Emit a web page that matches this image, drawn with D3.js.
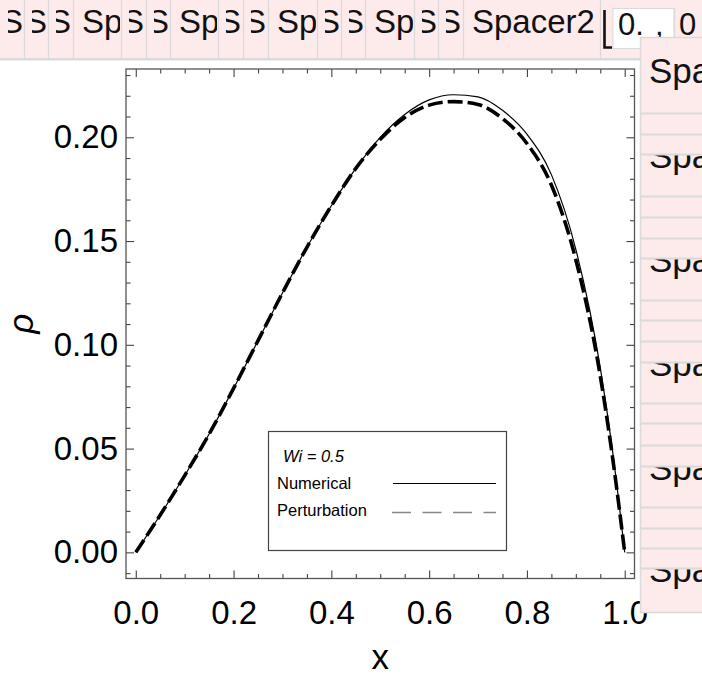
<!DOCTYPE html>
<html>
<head>
<meta charset="utf-8">
<script src="https://cdn.jsdelivr.net/npm/d3@7"></script>
<style>
  html, body { margin: 0; padding: 0; background: #fff; }
  svg { display: block; font-family: "Liberation Sans", Arial, Helvetica, sans-serif; }
</style>
</head>
<body>
<svg id="chart" width="702" height="685"></svg>
<script>
// ---- data ----
const xValues      = [0, 0.05, 0.1, 0.15, 0.2, 0.25, 0.3, 0.35, 0.4, 0.45, 0.5, 0.55, 0.6, 0.65, 0.7, 0.75, 0.8, 0.85, 0.9, 0.95, 0.975, 1.0];
const numerical    = [0, 0.018, 0.037, 0.057, 0.079, 0.102, 0.125, 0.147, 0.167, 0.185, 0.200, 0.211, 0.218, 0.2205, 0.2195, 0.213, 0.2015, 0.182, 0.146, 0.089, 0.049, 0];
const perturbation = [0, 0.018, 0.037, 0.057, 0.079, 0.102, 0.125, 0.147, 0.167, 0.185, 0.199, 0.2095, 0.2155, 0.2172, 0.2158, 0.209, 0.197, 0.177, 0.141, 0.085, 0.046, 0];
const xMajorTicks  = [0, 0.2, 0.4, 0.6, 0.8, 1.0];
const yMajorTicks  = [0, 0.05, 0.10, 0.15, 0.20];
const seriesNames  = ["Numerical", "Perturbation"];
const legendTitle  = "Wi = 0.5";
const xLabel = "x";
const yLabel = "ρ";
const cellText = "Spacer2";

// ---- layout ----
const W = 702, H = 685;
const frame = { left: 126, right: 634.5, top: 69, bottom: 578.5 };
const FONT = 33;
const PINK = "#fdeaea", CELL_LINE = "#dadada";

const svg = d3.select("#chart");
svg.append("rect").attr("width", W).attr("height", H).attr("fill", "#fff");
const defs = svg.append("defs");
let clipId = 0;
function clipRect(x, y, w, h) {
  const id = "clip" + (clipId++);
  defs.append("clipPath").attr("id", id)
    .append("rect").attr("x", x).attr("y", y).attr("width", w).attr("height", h);
  return "url(#" + id + ")";
}

// ---- top strip of cells ----
const stripEdges = [0, 24, 48, 73, 121, 146, 170, 218, 243, 268, 317, 341, 365, 414, 438, 463, 600];
const strip = svg.append("g");
strip.append("rect").attr("x", 0).attr("y", 0).attr("width", W).attr("height", 58).attr("fill", PINK);
strip.append("rect").attr("x", 0).attr("y", 58).attr("width", W).attr("height", 2.5).attr("fill", CELL_LINE);
d3.pairs(stripEdges).forEach(([a, b]) => {
  const narrow = (b - a) < 30;
  strip.append("line").attr("x1", b + 0.5).attr("x2", b + 0.5).attr("y1", 0).attr("y2", 58)
    .attr("stroke", CELL_LINE).attr("stroke-width", 1.3);
  strip.append("text").attr("x", narrow ? a + 1 : a + 9).attr("y", 33)
    .attr("font-size", FONT).attr("fill", "#111")
    .attr("clip-path", narrow ? clipRect(a + 8, 0, b - a - 9, 58) : clipRect(a + 1, 0, b - a - 2, 58))
    .text(cellText);
});
// bracket
strip.append("path").attr("d", "M604.5,10 V47.5 H612").attr("fill", "none")
  .attr("stroke", "#111").attr("stroke-width", 2.6);
// white cell with "0. ,"
strip.append("rect").attr("x", 613).attr("y", 8.5).attr("width", 61).attr("height", 40)
  .attr("fill", "#fff").attr("stroke", CELL_LINE).attr("stroke-width", 1);
strip.append("text").attr("x", 618).attr("y", 35).attr("font-size", 31).attr("fill", "#111").text("0.");
strip.append("text").attr("x", 655).attr("y", 35).attr("font-size", 31).attr("fill", "#111").text(",");
strip.append("line").attr("x1", 674.5).attr("x2", 674.5).attr("y1", 8).attr("y2", 40)
  .attr("stroke", CELL_LINE).attr("stroke-width", 1.3);
strip.append("text").attr("x", 679).attr("y", 35).attr("font-size", 31).attr("fill", "#111").text("0");

// ---- scales ----
const x = d3.scaleLinear().domain([-0.02, 1.02]).range([frame.left, frame.right]);
const y = d3.scaleLinear().domain([-0.0126, 0.2329]).range([frame.bottom, frame.top]);

const xMinor = d3.range(0, 1.0001, 0.05).filter(v => !xMajorTicks.some(m => Math.abs(m - v) < 1e-9));
const yMinor = d3.range(-0.01, 0.2301, 0.01).filter(v => !yMajorTicks.some(m => Math.abs(m - v) < 1e-9));

const plot = svg.append("g");
const TICK_COLOR = "#444";

function styleAxis(g, fontSize) {
  g.select(".domain").remove();
  g.selectAll(".tick line").attr("stroke", TICK_COLOR).attr("stroke-width", 1.1);
  g.selectAll(".tick text").attr("font-size", fontSize).attr("fill", "#000")
    .attr("font-family", "\"Liberation Sans\", Arial, sans-serif");
}

// bottom
plot.append("g").attr("transform", `translate(0,${frame.bottom})`)
  .call(d3.axisBottom(x).tickValues(xMajorTicks).tickSize(-8).tickPadding(22).tickFormat(d3.format(".1f")))
  .call(g => styleAxis(g, FONT));
plot.append("g").attr("transform", `translate(0,${frame.bottom})`)
  .call(d3.axisBottom(x).tickValues(xMinor).tickSize(-4.5).tickFormat(""))
  .call(g => styleAxis(g, FONT));
// top
plot.append("g").attr("transform", `translate(0,${frame.top})`)
  .call(d3.axisTop(x).tickValues(xMajorTicks).tickSize(-8).tickFormat(""))
  .call(g => styleAxis(g, FONT));
plot.append("g").attr("transform", `translate(0,${frame.top})`)
  .call(d3.axisTop(x).tickValues(xMinor).tickSize(-4.5).tickFormat(""))
  .call(g => styleAxis(g, FONT));
// left
plot.append("g").attr("transform", `translate(${frame.left},0)`)
  .call(d3.axisLeft(y).tickValues(yMajorTicks).tickSize(-8).tickPadding(8).tickFormat(d3.format(".2f")))
  .call(g => styleAxis(g, FONT));
plot.append("g").attr("transform", `translate(${frame.left},0)`)
  .call(d3.axisLeft(y).tickValues(yMinor).tickSize(-4.5).tickFormat(""))
  .call(g => styleAxis(g, FONT));
// right
plot.append("g").attr("transform", `translate(${frame.right},0)`)
  .call(d3.axisRight(y).tickValues(yMajorTicks).tickSize(-8).tickFormat(""))
  .call(g => styleAxis(g, FONT));
plot.append("g").attr("transform", `translate(${frame.right},0)`)
  .call(d3.axisRight(y).tickValues(yMinor).tickSize(-4.5).tickFormat(""))
  .call(g => styleAxis(g, FONT));

// frame
plot.append("rect")
  .attr("x", frame.left).attr("y", frame.top)
  .attr("width", frame.right - frame.left).attr("height", frame.bottom - frame.top)
  .attr("fill", "none").attr("stroke", "#555").attr("stroke-width", 1.3);

// axis titles
plot.append("text").attr("x", (frame.left + frame.right) / 2).attr("y", 669)
  .attr("text-anchor", "middle").attr("font-size", 35).attr("fill", "#000").text(xLabel);
plot.append("text").attr("transform", `translate(33,${(frame.top + frame.bottom) / 2}) rotate(-90)`)
  .attr("text-anchor", "middle").attr("font-size", 35).attr("font-style", "italic")
  .attr("fill", "#000").text(yLabel);

// ---- curves ----
const rowsNum = xValues.map((v, i) => [v, numerical[i]]);
const rowsPert = xValues.map((v, i) => [v, perturbation[i]]);
const line = d3.line().x(d => x(d[0])).y(d => y(d[1])).curve(d3.curveMonotoneX);

plot.append("path").datum(rowsPert).attr("d", line)
  .attr("fill", "none").attr("stroke", "#000").attr("stroke-width", 3.6)
  .attr("stroke-dasharray", "15,5");
plot.append("path").datum(rowsNum).attr("d", line)
  .attr("fill", "none").attr("stroke", "#000").attr("stroke-width", 1.2);

// ---- legend ----
const lg = svg.append("g");
lg.append("rect").attr("x", 268.5).attr("y", 431.5).attr("width", 238).attr("height", 119)
  .attr("fill", "#fff").attr("stroke", "#444").attr("stroke-width", 1.2);
lg.append("text").attr("x", 283).attr("y", 462).attr("font-size", 16.5).attr("font-style", "italic")
  .attr("fill", "#000").text(legendTitle);
lg.append("text").attr("x", 277).attr("y", 489).attr("font-size", 16.5).attr("fill", "#000").text(seriesNames[0]);
lg.append("text").attr("x", 277).attr("y", 515.5).attr("font-size", 16.5).attr("fill", "#000").text(seriesNames[1]);
lg.append("line").attr("x1", 393).attr("x2", 496).attr("y1", 483.5).attr("y2", 483.5)
  .attr("stroke", "#000").attr("stroke-width", 1);
lg.append("line").attr("x1", 392).attr("x2", 496).attr("y1", 512.5).attr("y2", 512.5)
  .attr("stroke", "#888").attr("stroke-width", 1.4).attr("stroke-dasharray", "19,11.5");

// ---- right panel of rows ----
const panel = { left: 640, top: 37, bottom: 612 };
const rowLines = [113, 134, 154, 196, 217, 238, 258, 300, 320, 341, 362, 403, 423, 445, 466, 507, 528, 548, 568];
const textRowTops = [154, 258, 362, 466, 568];
const pg = svg.append("g");
pg.append("rect").attr("x", panel.left + 0.5).attr("y", panel.top + 0.5)
  .attr("width", W - panel.left + 5).attr("height", panel.bottom - panel.top)
  .attr("fill", PINK).attr("stroke", CELL_LINE).attr("stroke-width", 1.5);
pg.append("text").attr("x", 649).attr("y", 83).attr("font-size", 35).attr("fill", "#111")
  .attr("clip-path", clipRect(panel.left + 1, panel.top + 1, 80, 113 - panel.top - 1))
  .text(cellText);
rowLines.forEach(r => {
  pg.append("line").attr("x1", panel.left + 1).attr("x2", W).attr("y1", r + 0.5).attr("y2", r + 0.5)
    .attr("stroke", CELL_LINE).attr("stroke-width", 1.8);
});
textRowTops.forEach(t => {
  const next = rowLines.find(r => r > t) || panel.bottom;
  pg.append("text").attr("x", 649).attr("y", t + 14).attr("font-size", 35).attr("fill", "#111")
    .attr("clip-path", clipRect(panel.left + 1, t + 1.5, 80, next - t - 1.5))
    .text(cellText);
});
</script>
</body>
</html>
